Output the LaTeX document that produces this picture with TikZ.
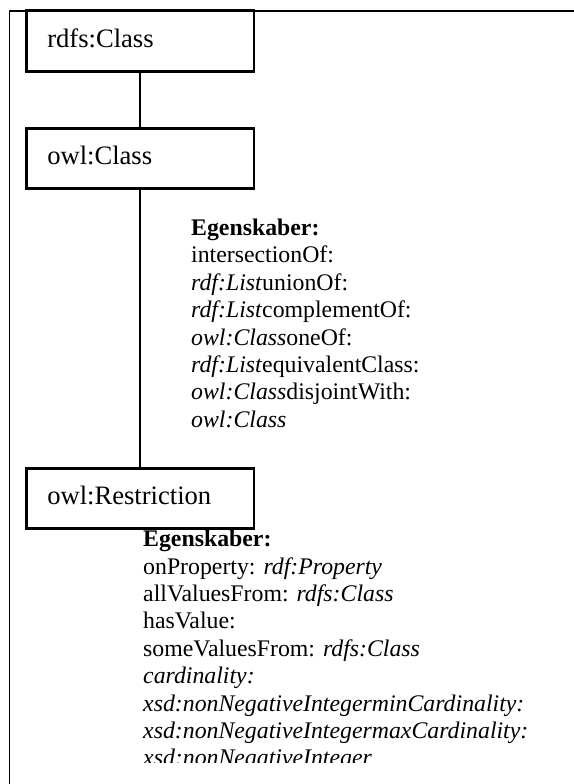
\documentclass[tikz,border=0pt]{standalone}
\usepackage{fontspec}
\setmainfont{Liberation Serif}
\begin{document}
\begin{tikzpicture}[x=1pt,y=-1pt,
  classbox/.style={draw, line width=2.6pt, minimum height=60.5pt,
    text width=186pt, align=left, inner xsep=20.75pt,
    text height=18pt, text depth=5.2pt,
    font=\fontsize{26.6}{30}\selectfont},
  conn/.style={line width=2pt},
  frame/.style={line width=1.6pt},
  % multi-line blocks are placed by the baseline of their last line
  props/.style={align=left, inner sep=0pt, anchor=base west,
    font=\fontsize{23.8}{27.4}\selectfont}]
\useasboundingbox (0,0) rectangle (573,784);

% outer frame (top and left edges)
\draw[frame] (590,10.8) -- (9.5,10.8) -- (9.5,800);

% class hierarchy
\node[classbox] (rdfs)  at (140.25,41)    {rdfs:Class};
\node[classbox] (owl)   at (140.25,158.5) {owl:Class};
\node[classbox] (restr) at (140.25,498.5) {owl:Restriction};

\draw[conn] (rdfs.south) -- (owl.north);
\draw[conn] (owl.south) -- (restr.north);

% properties of owl:Class
\node[props] (owlprops) at (191,427.3) {\textbf{Egenskaber:}\\
  intersectionOf:\\
  \textit{rdf:List}unionOf:\\
  \textit{rdf:List}complementOf:\\
  \textit{owl:Class}oneOf:\\
  \textit{rdf:List}equivalentClass:\\
  \textit{owl:Class}disjointWith:\\
  \textit{owl:Class}};

% properties of owl:Restriction, cut off at the bottom
\begin{scope}
  \clip (0,0) rectangle (573,762.5);
  \node[props] (restrprops) at (143,765.9) {\textbf{Egenskaber:}\\
    onProperty: \textit{rdf:Property}\\
    allValuesFrom: \textit{rdfs:Class}\\
    hasValue:\\
    someValuesFrom: \textit{rdfs:Class}\\
    \textit{cardinality:}\\
    \textit{xsd:nonNegativeIntegerminCardinality:}\\
    \textit{xsd:nonNegativeIntegermaxCardinality:}\\
    \textit{xsd:nonNegativeInteger}};
\end{scope}
\end{tikzpicture}
\end{document}
